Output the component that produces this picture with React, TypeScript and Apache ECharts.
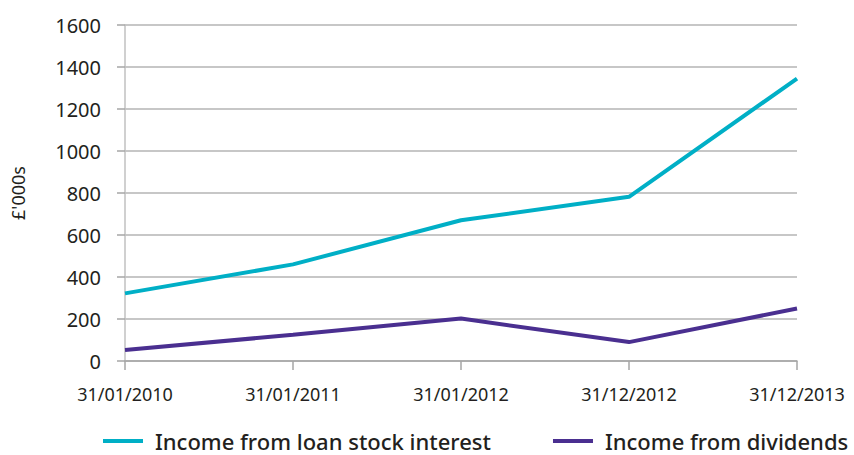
import React, { useEffect, useRef } from "react";
import * as echarts from "echarts";

const categories = ["31/01/2010", "31/01/2011", "31/01/2012", "31/12/2012", "31/12/2013"];
const loanStockInterest = [322, 460, 670, 782, 1345];
const dividends = [52, 125, 202, 90, 250];
const yTicks = { min: 0, max: 1600, interval: 200 };

export default function App() {
  const ref = useRef<HTMLDivElement>(null);
  useEffect(() => {
    if (!ref.current) return;
    const chart = echarts.init(ref.current, undefined, { renderer: "svg" });
    const font = "'Noto Sans', 'Open Sans', sans-serif";
    chart.setOption({
      animation: false,
      textStyle: { fontFamily: font },
      grid: { left: 125, right: 57, top: 25, bottom: 94, containLabel: false },
      legend: {
        top: 428,
        left: 103,
        width: 751,
        padding: 0,
        itemWidth: 47,
        itemHeight: 4,
        itemGap: 62,
        icon: "path://M0,0H40V4H0Z M47,0L47,4",
        textStyle: { fontSize: 22, fontWeight: 500, color: "#231f20", fontFamily: font, lineHeight: 26 },
        data: ["Income from loan stock interest", "Income from dividends"],
      },
      xAxis: {
        type: "category",
        boundaryGap: false,
        data: categories,
        axisLine: { lineStyle: { color: "#a6a6a6", width: 1.5 } },
        axisTick: { show: true, length: 9, lineStyle: { color: "#a6a6a6", width: 1.5 } },
        axisLabel: { fontSize: 18, color: "#231f20", margin: 24, fontFamily: font },
        splitLine: { show: false },
      },
      yAxis: {
        type: "value",
        min: yTicks.min,
        max: yTicks.max,
        interval: yTicks.interval,
        name: "£'000s",
        nameLocation: "middle",
        nameGap: 98,
        nameRotate: 90,
        nameTextStyle: { fontSize: 18, color: "#231f20", fontFamily: font },
        axisLine: { show: true, lineStyle: { color: "#c0c0c0", width: 1.5 } },
        axisTick: { show: true, length: 8, lineStyle: { color: "#a6a6a6", width: 1.5 } },
        axisLabel: { fontSize: 20, color: "#231f20", margin: 24, fontFamily: font, formatter: (v: number) => String(v) },
        splitLine: { show: true, lineStyle: { color: "#b4b4b4", width: 1.5 } },
      },
      series: [
        {
          name: "Income from loan stock interest",
          type: "line",
          data: loanStockInterest,
          showSymbol: false,
          symbol: "none",
          lineStyle: { color: "#00afc6", width: 4 },
          itemStyle: { color: "#00afc6" },
        },
        {
          name: "Income from dividends",
          type: "line",
          data: dividends,
          showSymbol: false,
          symbol: "none",
          lineStyle: { color: "#4a2f90", width: 4 },
          itemStyle: { color: "#4a2f90" },
        },
      ],
    });
    return () => chart.dispose();
  }, []);
  return <div ref={ref} style={{ width: 854, height: 455, position: "absolute", left: 0, top: 0 }} />;
}
